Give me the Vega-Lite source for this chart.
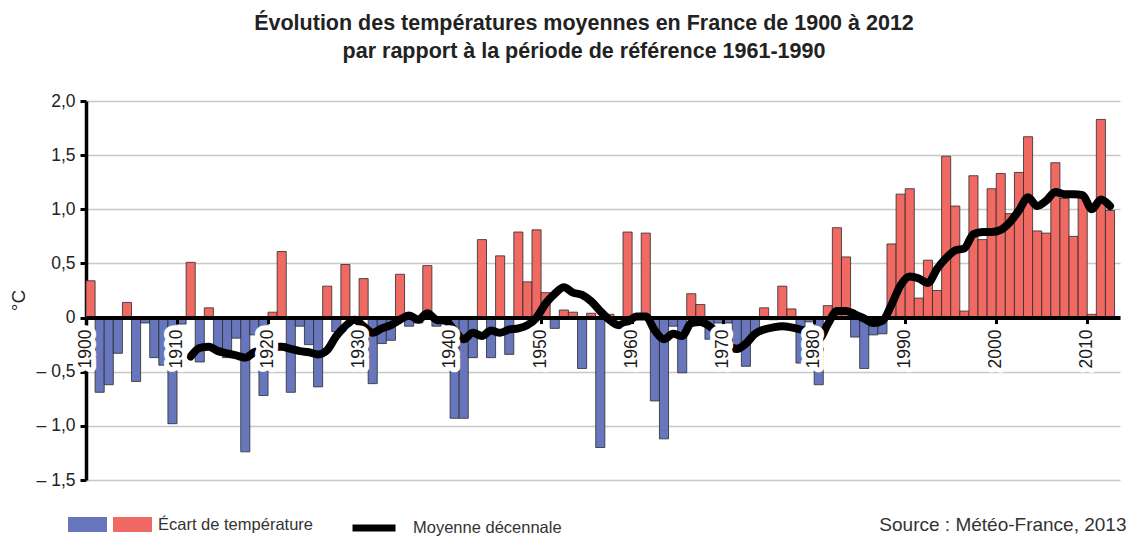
{
  "$schema": "https://vega.github.io/schema/vega-lite/v6.json",
  "width": 1034,
  "height": 379,
  "autosize": {"type": "none"},
  "padding": {"left": 86, "top": 101, "right": 11, "bottom": 57},
  "background": "white",
  "config": {"view": {"stroke": null}, "font": "Liberation Sans"},
  "title": {
    "text": ["Évolution des températures moyennes en France de 1900 à 2012", "par rapport à la période de référence 1961-1990"],
    "fontSize": 21.5,
    "fontWeight": "bold",
    "font": "Liberation Sans",
    "color": "#222222",
    "anchor": "middle",
    "frame": "group",
    "dx": -19,
    "lineHeight": 28,
    "offset": 30
  },
  "data": {
    "values": [
      {"year": 1900, "ecart": 0.34}, {"year": 1901, "ecart": -0.69}, {"year": 1902, "ecart": -0.62}, {"year": 1903, "ecart": -0.33},
      {"year": 1904, "ecart": 0.14}, {"year": 1905, "ecart": -0.59}, {"year": 1906, "ecart": -0.05}, {"year": 1907, "ecart": -0.37},
      {"year": 1908, "ecart": -0.44}, {"year": 1909, "ecart": -0.98}, {"year": 1910, "ecart": -0.06},
      {"year": 1911, "ecart": 0.51, "moyenne": -0.36}, {"year": 1912, "ecart": -0.41, "moyenne": -0.28},
      {"year": 1913, "ecart": 0.09, "moyenne": -0.27}, {"year": 1914, "ecart": -0.28, "moyenne": -0.31},
      {"year": 1915, "ecart": -0.37, "moyenne": -0.33}, {"year": 1916, "ecart": -0.19, "moyenne": -0.35},
      {"year": 1917, "ecart": -1.24, "moyenne": -0.37}, {"year": 1918, "ecart": -0.16, "moyenne": -0.32},
      {"year": 1919, "ecart": -0.72, "moyenne": -0.29}, {"year": 1920, "ecart": 0.05, "moyenne": -0.27},
      {"year": 1921, "ecart": 0.61, "moyenne": -0.27}, {"year": 1922, "ecart": -0.69, "moyenne": -0.29},
      {"year": 1923, "ecart": -0.08, "moyenne": -0.31}, {"year": 1924, "ecart": -0.25, "moyenne": -0.32},
      {"year": 1925, "ecart": -0.64, "moyenne": -0.34}, {"year": 1926, "ecart": 0.29, "moyenne": -0.30},
      {"year": 1927, "ecart": -0.13, "moyenne": -0.17}, {"year": 1928, "ecart": 0.49, "moyenne": -0.08},
      {"year": 1929, "ecart": -0.03, "moyenne": -0.02}, {"year": 1930, "ecart": 0.36, "moyenne": -0.08},
      {"year": 1931, "ecart": -0.61, "moyenne": -0.14}, {"year": 1932, "ecart": -0.24, "moyenne": -0.10},
      {"year": 1933, "ecart": -0.21, "moyenne": -0.07}, {"year": 1934, "ecart": 0.40, "moyenne": -0.02},
      {"year": 1935, "ecart": -0.08, "moyenne": 0.02}, {"year": 1936, "ecart": -0.05, "moyenne": -0.02},
      {"year": 1937, "ecart": 0.48, "moyenne": 0.04}, {"year": 1938, "ecart": -0.08, "moyenne": -0.02},
      {"year": 1939, "ecart": -0.03, "moyenne": -0.03}, {"year": 1940, "ecart": -0.93, "moyenne": -0.12},
      {"year": 1941, "ecart": -0.93, "moyenne": -0.20}, {"year": 1942, "ecart": -0.37, "moyenne": -0.14},
      {"year": 1943, "ecart": 0.72, "moyenne": -0.17}, {"year": 1944, "ecart": -0.37, "moyenne": -0.12},
      {"year": 1945, "ecart": 0.57, "moyenne": -0.14}, {"year": 1946, "ecart": -0.34, "moyenne": -0.11},
      {"year": 1947, "ecart": 0.79, "moyenne": -0.10}, {"year": 1948, "ecart": 0.33, "moyenne": -0.07},
      {"year": 1949, "ecart": 0.81, "moyenne": 0.00}, {"year": 1950, "ecart": 0.23, "moyenne": 0.13},
      {"year": 1951, "ecart": -0.10, "moyenne": 0.22}, {"year": 1952, "ecart": 0.07, "moyenne": 0.28},
      {"year": 1953, "ecart": 0.05, "moyenne": 0.23}, {"year": 1954, "ecart": -0.47, "moyenne": 0.21},
      {"year": 1955, "ecart": 0.04, "moyenne": 0.15}, {"year": 1956, "ecart": -1.20, "moyenne": 0.06},
      {"year": 1957, "ecart": 0.03, "moyenne": -0.02}, {"year": 1958, "ecart": -0.02, "moyenne": -0.07},
      {"year": 1959, "ecart": 0.79, "moyenne": -0.04}, {"year": 1960, "ecart": 0.02, "moyenne": 0.01},
      {"year": 1961, "ecart": 0.78, "moyenne": 0.01}, {"year": 1962, "ecart": -0.77, "moyenne": -0.12},
      {"year": 1963, "ecart": -1.12, "moyenne": -0.20}, {"year": 1964, "ecart": -0.08, "moyenne": -0.15},
      {"year": 1965, "ecart": -0.51, "moyenne": -0.17}, {"year": 1966, "ecart": 0.22, "moyenne": -0.05},
      {"year": 1967, "ecart": 0.12, "moyenne": -0.04}, {"year": 1968, "ecart": -0.20, "moyenne": -0.08},
      {"year": 1969, "ecart": -0.05, "moyenne": -0.15}, {"year": 1970, "ecart": -0.05, "moyenne": -0.25},
      {"year": 1971, "ecart": -0.25, "moyenne": -0.29}, {"year": 1972, "ecart": -0.45, "moyenne": -0.24},
      {"year": 1973, "ecart": -0.14, "moyenne": -0.15}, {"year": 1974, "ecart": 0.09, "moyenne": -0.11},
      {"year": 1975, "ecart": -0.02, "moyenne": -0.09}, {"year": 1976, "ecart": 0.29, "moyenne": -0.08},
      {"year": 1977, "ecart": 0.08, "moyenne": -0.09}, {"year": 1978, "ecart": -0.42, "moyenne": -0.11},
      {"year": 1979, "ecart": -0.04, "moyenne": -0.14}, {"year": 1980, "ecart": -0.62, "moyenne": -0.20},
      {"year": 1981, "ecart": 0.11, "moyenne": -0.06}, {"year": 1982, "ecart": 0.83, "moyenne": 0.06},
      {"year": 1983, "ecart": 0.56, "moyenne": 0.06}, {"year": 1984, "ecart": -0.18, "moyenne": 0.03},
      {"year": 1985, "ecart": -0.47, "moyenne": -0.01}, {"year": 1986, "ecart": -0.16, "moyenne": -0.05},
      {"year": 1987, "ecart": -0.15, "moyenne": -0.03}, {"year": 1988, "ecart": 0.68, "moyenne": 0.12},
      {"year": 1989, "ecart": 1.14, "moyenne": 0.30}, {"year": 1990, "ecart": 1.19, "moyenne": 0.38},
      {"year": 1991, "ecart": 0.18, "moyenne": 0.36}, {"year": 1992, "ecart": 0.53, "moyenne": 0.32},
      {"year": 1993, "ecart": 0.25, "moyenne": 0.45}, {"year": 1994, "ecart": 1.49, "moyenne": 0.55},
      {"year": 1995, "ecart": 1.03, "moyenne": 0.62}, {"year": 1996, "ecart": 0.06, "moyenne": 0.64},
      {"year": 1997, "ecart": 1.31, "moyenne": 0.77}, {"year": 1998, "ecart": 0.72, "moyenne": 0.79},
      {"year": 1999, "ecart": 1.19, "moyenne": 0.79}, {"year": 2000, "ecart": 1.33, "moyenne": 0.81},
      {"year": 2001, "ecart": 0.96, "moyenne": 0.88}, {"year": 2002, "ecart": 1.34, "moyenne": 0.99},
      {"year": 2003, "ecart": 1.67, "moyenne": 1.11}, {"year": 2004, "ecart": 0.80, "moyenne": 1.03},
      {"year": 2005, "ecart": 0.78, "moyenne": 1.08}, {"year": 2006, "ecart": 1.43, "moyenne": 1.16},
      {"year": 2007, "ecart": 1.10, "moyenne": 1.14}, {"year": 2008, "ecart": 0.75, "moyenne": 1.14},
      {"year": 2009, "ecart": 1.12, "moyenne": 1.13}, {"year": 2010, "ecart": 0.03, "moyenne": 1.00},
      {"year": 2011, "ecart": 1.83, "moyenne": 1.09}, {"year": 2012, "ecart": 0.99, "moyenne": 1.03}
    ]
  },
  "layer": [
    {
      "transform": [{"filter": "datum.ecart < 0"}],
      "mark": {"type": "bar", "stroke": "#2b2b2b", "strokeWidth": 0.8},
      "encoding": {
        "x": {
          "field": "year",
          "type": "ordinal",
          "scale": {"paddingInner": 0, "paddingOuter": 0.3, "align": 0},
          "axis": {
            "orient": "bottom",
            "offset": -162.43,
            "values": [1900, 1910, 1920, 1930, 1940, 1950, 1960, 1970, 1980, 1990, 2000, 2010],
            "bandPosition": 0,
            "labels": false,
            "grid": false,
            "domainColor": "black",
            "domainWidth": 4,
            "tickColor": "black",
            "tickWidth": 3,
            "tickSize": 6,
            "title": "Source : Météo-France, 2013",
            "titleX": 1040,
            "titleY": 207,
            "titleAlign": "right",
            "titleBaseline": "middle",
            "titleFontSize": 19,
            "titleFontWeight": "normal",
            "titleColor": "#333333",
            "zindex": 1
          }
        },
        "y": {
          "field": "ecart",
          "type": "quantitative",
          "scale": {"domain": [-1.5, 2], "nice": false},
          "axis": {
            "title": "°C",
            "values": [-1.5, -1, -0.5, 0, 0.5, 1, 1.5, 2],
            "labelExpr": "datum.value == 0 ? '0' : (datum.value < 0 ? '– ' : '') + replace(format(abs(datum.value), '.1f'), '.', ',')",
            "labelFontSize": 17.5,
            "labelColor": "#222222",
            "labelPadding": 5,
            "domainColor": "black",
            "domainWidth": 3.5,
            "tickColor": "black",
            "tickWidth": 3,
            "tickSize": 6,
            "gridColor": "#c8c8c8",
            "gridWidth": 1.5,
            "titleFontSize": 19,
            "titleFontWeight": "normal",
            "titleColor": "#222222",
            "titleX": -68,
            "titleY": 199,
            "titleAngle": -90,
            "titleAlign": "center",
            "titleBaseline": "middle"
          }
        },
        "fill": {
          "datum": "neg",
          "type": "nominal",
          "scale": {"domain": ["neg", "pos"], "range": ["#6877BD", "#F06A63"]},
          "legend": {
            "orient": "none",
            "legendX": -18,
            "legendY": 404,
            "direction": "horizontal",
            "title": null,
            "symbolType": "M-1,-0.38L1,-0.38L1,0.38L-1,0.38Z",
            "symbolSize": 1521,
            "symbolStrokeWidth": 0,
            "symbolOpacity": 1,
            "labelExpr": "datum.value == 'pos' ? '\u00a0Écart de température' : ''",
            "labelFontSize": 16.5,
            "labelColor": "#333333",
            "labelOffset": 6,
            "columnPadding": 0
          }
        }
      }
    },
    {
      "transform": [{"filter": "datum.ecart >= 0"}],
      "mark": {"type": "bar", "stroke": "#2b2b2b", "strokeWidth": 0.8},
      "encoding": {
        "x": {"field": "year", "type": "ordinal"},
        "y": {"field": "ecart", "type": "quantitative"},
        "fill": {"datum": "pos", "type": "nominal"}
      }
    },
    {
      "transform": [{"filter": "datum.moyenne != null"}],
      "mark": {"type": "line", "strokeWidth": 8, "interpolate": "monotone", "strokeCap": "round", "strokeJoin": "round"},
      "encoding": {
        "x": {"field": "year", "type": "ordinal"},
        "y": {"field": "moyenne", "type": "quantitative"},
        "stroke": {
          "datum": "Moyenne décennale",
          "type": "nominal",
          "scale": {"range": ["black"]},
          "legend": {
            "orient": "none",
            "legendX": 263,
            "legendY": 402,
            "title": null,
            "symbolType": "stroke",
            "symbolSize": 1849,
            "symbolStrokeWidth": 7,
            "labelFontSize": 16.5,
            "labelColor": "#333333",
            "labelOffset": 14
          }
        }
      }
    },
    {
      "transform": [{"filter": "datum.year % 10 == 0"}],
      "mark": {"type": "text", "angle": -90, "align": "right", "baseline": "middle", "dx": -12, "fontSize": 17.5, "fill": "white", "stroke": "white", "strokeWidth": 10, "strokeJoin": "round"},
      "encoding": {
        "x": {"field": "year", "type": "ordinal", "bandPosition": 0},
        "y": {"datum": 0, "type": "quantitative"},
        "text": {"field": "year", "type": "ordinal"}
      }
    },
    {
      "transform": [{"filter": "datum.year % 10 == 0"}],
      "mark": {"type": "text", "angle": -90, "align": "right", "baseline": "middle", "dx": -12, "fontSize": 17.5, "fill": "#1a1a1a"},
      "encoding": {
        "x": {"field": "year", "type": "ordinal", "bandPosition": 0},
        "y": {"datum": 0, "type": "quantitative"},
        "text": {"field": "year", "type": "ordinal"}
      }
    }
  ]
}
